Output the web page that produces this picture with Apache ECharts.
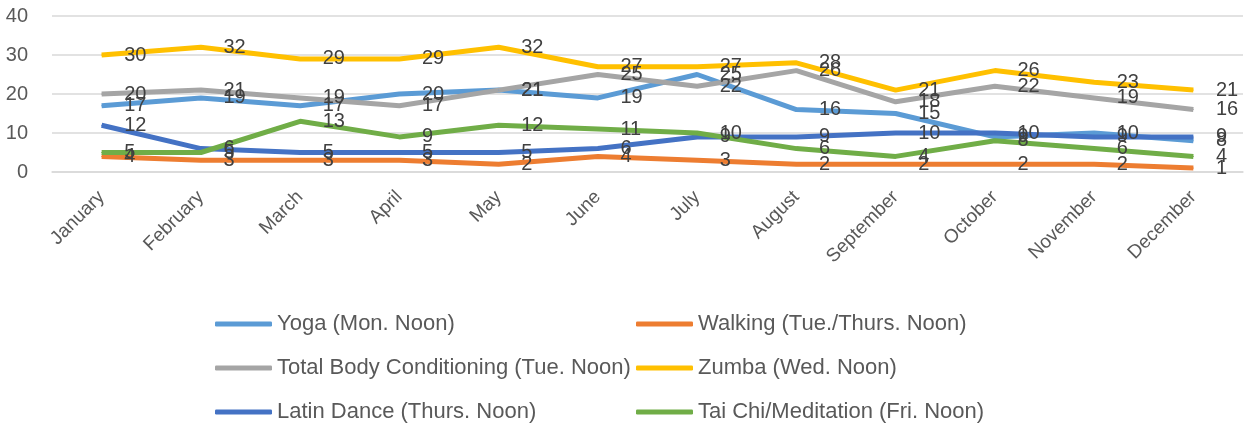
<!DOCTYPE html>
<html>
<head>
<meta charset="utf-8">
<script src="https://cdn.jsdelivr.net/npm/echarts@6/dist/echarts.min.js"></script>
<style>
  html, body { margin: 0; padding: 0; background: #fff; }
  #chart { width: 1249px; height: 428px; }
</style>
</head>
<body>
<div id="chart"></div>
<script>
var months = ['January','February','March','April','May','June','July','August','September','October','November','December'];
var yoga = [17, 19, 17, 20, 21, 19, 25, 16, 15, 9, 10, 8];
var walking = [4, 3, 3, 3, 2, 4, 3, 2, 2, 2, 2, 1];
var tbc = [20, 21, 19, 17, 21, 25, 22, 26, 18, 22, 19, 16];
var zumba = [30, 32, 29, 29, 32, 27, 27, 28, 21, 26, 23, 21];
var latin = [12, 6, 5, 5, 5, 6, 9, 9, 10, 10, 9, 9];
var taichi = [5, 5, 13, 9, 12, 11, 10, 6, 4, 8, 6, 4];

var font = '"Liberation Sans", Arial, sans-serif';

function line(name, data, color) {
	return {
		name: name,
		type: 'line',
		data: data,
		symbol: 'circle',
		symbolSize: 1,
		showSymbol: true,
		lineStyle: { color: color, width: 5 },
		itemStyle: { color: color },
		label: {
			show: true,
			position: 'right',
			distance: 22,
			offset: [0, 3],
			color: '#404040',
			fontSize: 20,
			fontFamily: font
		},
		labelLayout: { hideOverlap: false }
	};
}

var myChart = echarts.init(document.getElementById('chart'));
var option = {
	animation: false,
	grid: { left: 52, right: 6, top: 16, height: 156 },
	legend: [
		{
			left: 210, top: 308, orient: 'vertical', itemGap: 22,
			itemWidth: 57, itemHeight: 5, icon: 'roundRect',
			textStyle: { color: '#595959', fontSize: 22, fontFamily: font },
			data: ['Yoga (Mon. Noon)', 'Total Body Conditioning (Tue. Noon)', 'Latin Dance (Thurs. Noon)']
		},
		{
			left: 631, top: 308, orient: 'vertical', itemGap: 22,
			itemWidth: 57, itemHeight: 5, icon: 'roundRect',
			textStyle: { color: '#595959', fontSize: 22, fontFamily: font },
			data: ['Walking (Tue./Thurs. Noon)', 'Zumba (Wed. Noon)', 'Tai Chi/Meditation (Fri. Noon)']
		}
	],
	xAxis: {
		type: 'category',
		data: months,
		boundaryGap: true,
		axisLine: { lineStyle: { color: '#d9d9d9', width: 1.5 } },
		axisTick: { show: false },
		axisLabel: { rotate: 45, color: '#595959', fontSize: 19, fontFamily: font, margin: 22, interval: 0 }
	},
	yAxis: {
		type: 'value',
		min: 0, max: 40, interval: 10,
		axisLine: { show: false },
		axisTick: { show: false },
		splitLine: { lineStyle: { color: '#d9d9d9', width: 1.5 } },
		axisLabel: { color: '#595959', fontSize: 20, fontFamily: font, margin: 24 }
	},
	series: [
		line('Yoga (Mon. Noon)', yoga, '#5B9BD5'),
		line('Walking (Tue./Thurs. Noon)', walking, '#ED7D31'),
		line('Total Body Conditioning (Tue. Noon)', tbc, '#A5A5A5'),
		line('Zumba (Wed. Noon)', zumba, '#FFC000'),
		line('Latin Dance (Thurs. Noon)', latin, '#4472C4'),
		line('Tai Chi/Meditation (Fri. Noon)', taichi, '#70AD47')
	]
};
myChart.setOption(option);
</script>
</body>
</html>
